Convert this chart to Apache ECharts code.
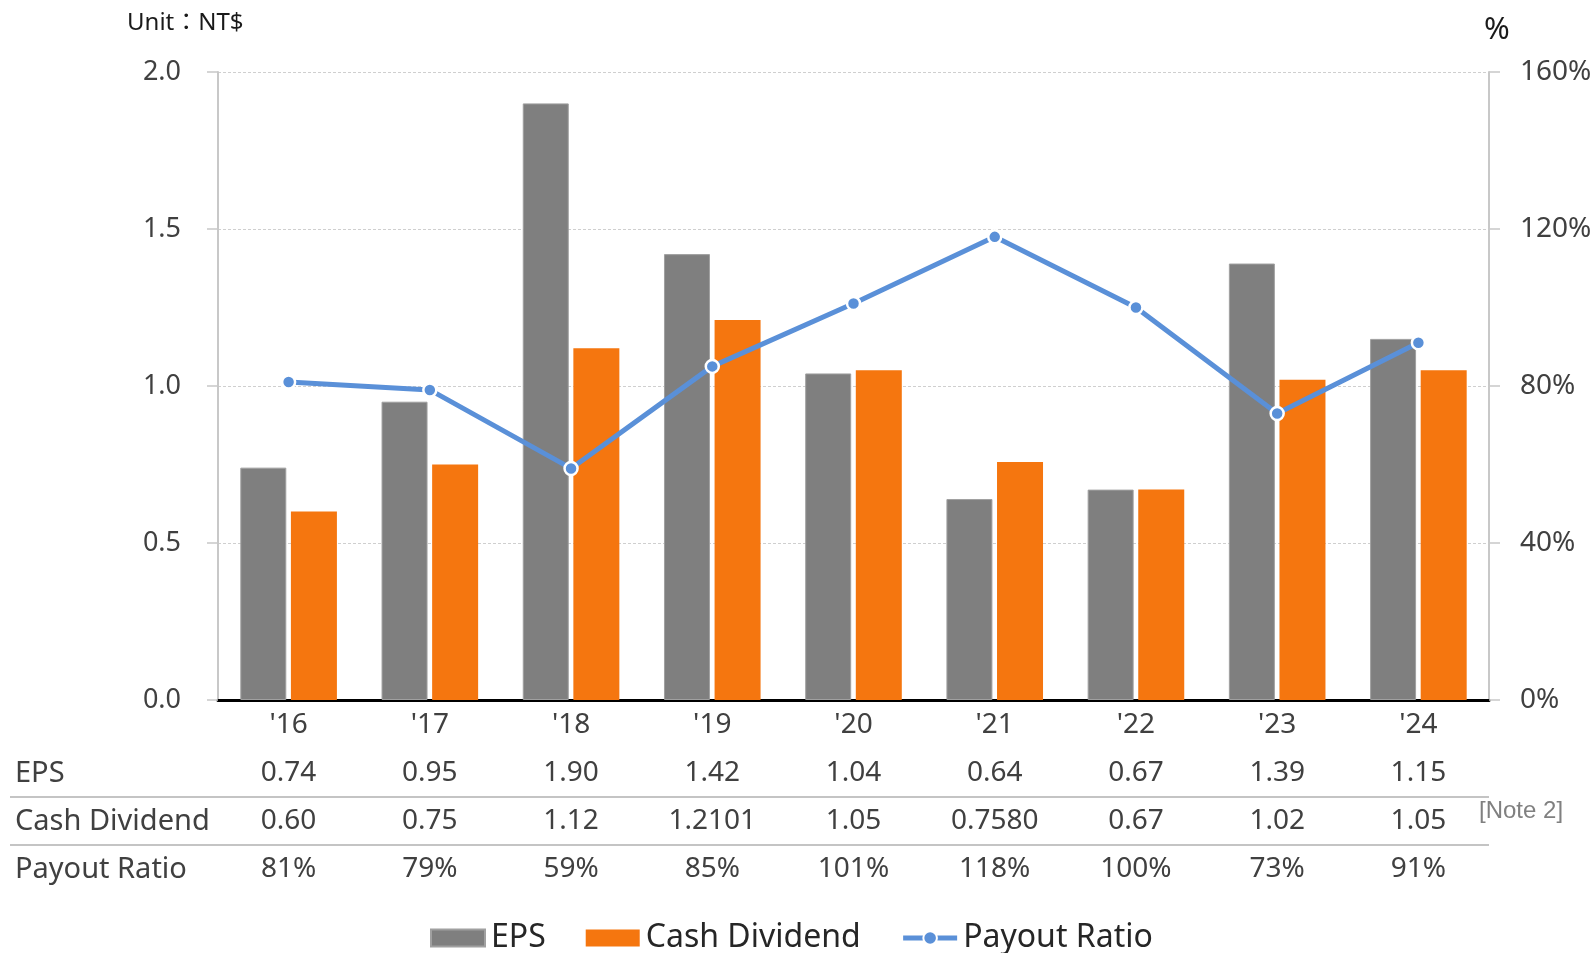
<!DOCTYPE html>
<html>
<head>
<meta charset="utf-8">
<script src="https://cdn.jsdelivr.net/npm/echarts@6/dist/echarts.min.js"></script>
<style>
html,body{margin:0;padding:0;background:#fff;}
#chart{width:1596px;height:953px;}
</style>
</head>
<body>
<div id="chart"></div>
<script>
// ---- data ----
const categories = ["'16", "'17", "'18", "'19", "'20", "'21", "'22", "'23", "'24"];
const epsValues = [0.74, 0.95, 1.90, 1.42, 1.04, 0.64, 0.67, 1.39, 1.15];
const cashDividendValues = [0.60, 0.75, 1.12, 1.2101, 1.05, 0.7580, 0.67, 1.02, 1.05];
const cashDividendText = ["0.60", "0.75", "1.12", "1.2101", "1.05", "0.7580", "0.67", "1.02", "1.05"];
const payoutRatioValues = [81, 79, 59, 85, 101, 118, 100, 73, 91];
const rowLabels = ["EPS", "Cash Dividend", "Payout Ratio"];

// ---- styling ----
const FONT = "'Noto Sans', 'Noto Sans CJK TC', sans-serif";
const TXT = '#404040';
const GRAY = '#7f7f7f';
const ORANGE = '#f5760f';
const BLUE = '#5a90d8';

const chart = echarts.init(document.getElementById('chart'));

const option = {
  backgroundColor: '#fff',
  animation: false,
  textStyle: { fontFamily: FONT },
  grid: { left: 218, right: 107, top: 72, bottom: 253 },
  legend: {
    left: 425,
    top: 917,
    itemWidth: 54,
    itemHeight: 17,
    itemGap: 40,
    textStyle: { fontFamily: FONT, fontSize: 32, color: '#262626', padding: [0, 0, 0, 1] },
    data: [
      { name: 'EPS', icon: 'rect' },
      { name: 'Cash Dividend', icon: 'rect' },
      { name: 'Payout Ratio', lineStyle: { width: 5 } }
    ]
  },
  xAxis: {
    type: 'category',
    data: categories,
    axisLine: { show: true, lineStyle: { color: '#000', width: 3 } },
    axisTick: { show: false },
    axisLabel: {
      margin: 1,
      fontFamily: FONT,
      fontSize: 28,
      color: TXT,
      lineHeight: 48,
      formatter: function (value, idx) {
        return value + '\n' + epsValues[idx].toFixed(2) + '\n' + cashDividendText[idx] + '\n' + payoutRatioValues[idx] + '%';
      }
    }
  },
  yAxis: [
    {
      type: 'value',
      min: 0, max: 2, interval: 0.5,
      axisLine: { show: true, lineStyle: { color: '#c8c8c8', width: 2 } },
      axisTick: { show: true, length: 11, lineStyle: { color: '#c8c8c8', width: 1.5 } },
      splitLine: { show: true, lineStyle: { color: '#cfcfcf', width: 1, type: [3, 2] } },
      axisLabel: {
        margin: 37,
        fontFamily: FONT, fontSize: 27, color: TXT,
        formatter: function (v) { return v.toFixed(1); }
      }
    },
    {
      type: 'value',
      min: 0, max: 160, interval: 40,
      axisLine: { show: true, lineStyle: { color: '#c8c8c8', width: 2 } },
      axisTick: { show: true, length: 11, lineStyle: { color: '#c8c8c8', width: 1.5 } },
      splitLine: { show: false },
      axisLabel: {
        margin: 31,
        fontFamily: FONT, fontSize: 28, color: TXT,
        formatter: '{value}%'
      }
    }
  ],
  series: [
    {
      name: 'EPS',
      type: 'bar',
      data: epsValues,
      barWidth: 46,
      barGap: '10%',
      itemStyle: { color: GRAY, borderColor: '#a0a0a0', borderWidth: 1 },
      z: 2
    },
    {
      name: 'Cash Dividend',
      type: 'bar',
      data: cashDividendValues,
      barWidth: 46,
      barGap: '10%',
      itemStyle: { color: ORANGE },
      z: 2
    },
    {
      name: 'Payout Ratio',
      type: 'line',
      yAxisIndex: 1,
      data: payoutRatioValues,
      symbol: 'circle',
      symbolSize: 13,
      lineStyle: { color: BLUE, width: 5 },
      itemStyle: { color: BLUE, borderColor: '#fff', borderWidth: 2.5 },
      z: 5
    }
  ],
  graphic: [
    { type: 'text', x: 127, y: 23, style: { text: 'Unit：NT$', font: "24px 'Noto Sans', 'Noto Sans CJK TC', sans-serif", fill: '#1a1a1a', verticalAlign: 'middle' } },
    { type: 'text', x: 1484, y: 30, style: { text: '%', font: "31px 'Noto Sans', sans-serif", fill: '#1a1a1a', verticalAlign: 'middle' } },
    { type: 'text', x: 15, y: 774, style: { text: rowLabels[0], font: "29px 'Noto Sans', sans-serif", fill: TXT, verticalAlign: 'middle' } },
    { type: 'text', x: 15, y: 822, style: { text: rowLabels[1], font: "29px 'Noto Sans', sans-serif", fill: TXT, verticalAlign: 'middle' } },
    { type: 'text', x: 15, y: 870, style: { text: rowLabels[2], font: "29px 'Noto Sans', sans-serif", fill: TXT, verticalAlign: 'middle' } },
    { type: 'line', shape: { x1: 10, y1: 797, x2: 1489, y2: 797 }, style: { stroke: '#c4c4c4', lineWidth: 2 } },
    { type: 'line', shape: { x1: 10, y1: 845, x2: 1489, y2: 845 }, style: { stroke: '#c4c4c4', lineWidth: 2 } },
    { type: 'text', x: 1479, y: 811, style: { text: '[Note 2]', font: "24px 'Liberation Sans', Arial, sans-serif", fill: '#808080', verticalAlign: 'middle' } }
  ]
};

chart.setOption(option);
</script>
</body>
</html>
